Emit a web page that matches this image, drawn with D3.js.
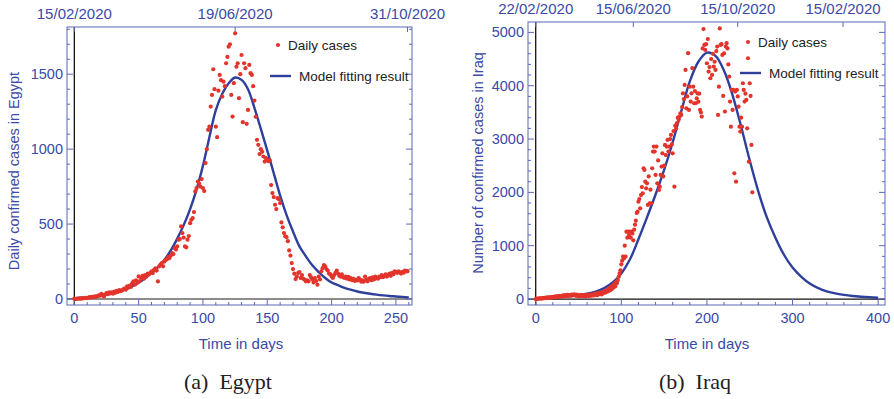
<!DOCTYPE html>
<html>
<head>
<meta charset="utf-8">
<script src="https://cdn.jsdelivr.net/npm/d3@7"></script>
<style>
  body { margin: 0; background: #fff; }
  svg { display: block; }
</style>
</head>
<body>
<svg id="chart" width="894" height="399"></svg>
<script>
// Egypt: daily cases, one value per day starting at day 0
const egyptCases = [
  2, 0, 1, 3, 2, 4, 3, 6, 5, 8,
  6, 9, 12, 10, 14, 12, 18, 15, 20, 24,
  22, 35, 28, 17, 30, 40, 33, 44, 38, 45,
  35, 50, 42, 55, 48, 60, 52, 57, 65, 70,
  62, 84, 75, 90, 80, 105, 118, 95, 125, 110,
  151, 120, 140, 155, 135, 160, 150, 170, 165, 173,
  185, 173, 195, 205, 190, 117, 218, 229, 240, 218,
  250, 262, 265, 280, 273, 290, 307, 300, 340, 330,
  351, 396, 400, 484, 440, 410, 351, 345, 396, 420,
  506, 529, 540, 580, 718, 740, 784, 770, 750, 800,
  740, 720, 907, 1000, 1129, 1150, 1284, 1362, 1533, 1400,
  1150, 1080, 1390, 1495, 1460, 1351, 1450, 1420, 1573, 1615,
  1684, 1700, 1362, 1217, 1440, 1773, 1550, 1573, 1340, 1500,
  1628, 1180, 1573, 1540, 1169, 1262, 1562, 1507, 1495, 1420,
  1324, 1216, 1062, 1029, 967, 1000, 982, 951, 917, 940,
  929, 920, 925, 760, 707, 680, 629, 600, 673, 666,
  640, 511, 478, 440, 418, 413, 386, 324, 290, 240,
  200, 169, 133, 150, 173, 180, 140, 160, 135, 130,
  118, 125, 118, 160, 145, 130, 110, 140, 120, 95,
  150, 130, 185, 206, 227, 218, 200, 190, 170, 165,
  150, 140, 160, 175, 190, 170, 155, 150, 165, 145,
  140, 150, 135, 148, 130, 140, 125, 135, 120, 128,
  124, 140, 130, 115, 125, 115, 150, 130, 118, 135,
  140, 125, 145, 130, 150, 140, 135, 150, 145, 160,
  145, 155, 165, 150, 160, 170, 155, 175, 165, 184,
  180, 175, 185, 178, 170, 182, 176, 190, 184, 186
];

// Egypt model fit, sampled every 5 days
const egyptModelDays = d3.range(0, 261, 5);
const egyptModel = [
  5, 8, 11, 15, 21, 29, 38, 50, 66, 85,
  108, 138, 175, 212, 261, 324, 403, 493, 600, 730,
  890, 1080, 1260, 1370, 1440, 1478, 1462, 1400, 1275, 1135,
  990, 840, 690, 560, 450, 351, 285, 225, 180, 140,
  110, 92, 75, 62, 50, 42, 35, 29, 24, 20,
  17, 14, 11
];

// Iraq: daily confirmed cases, one value per day starting at day 0
const iraqCases = [
  0, 4, 8, 5, 12, 10, 15, 9, 18, 14,
  20, 16, 25, 22, 30, 18, 28, 35, 24, 32,
  40, 30, 45, 38, 50, 35, 55, 42, 60, 48,
  52, 65, 45, 70, 58, 75, 62, 80, 55, 68,
  72, 60, 85, 66, 78, 90, 70, 62, 82, 58,
  75, 50, 68, 80, 55, 72, 64, 48, 70, 60,
  65, 78, 55, 85, 70, 62, 90, 75, 68, 95,
  80, 105, 72, 110, 90, 120, 100, 85, 130, 110,
  140, 120, 160, 135, 180, 150, 200, 165, 230, 190,
  250, 215, 280, 240, 320, 300, 356, 420, 480, 540,
  650, 720, 794, 760, 1000, 794, 1263, 1150, 1263, 1200,
  1263, 1150, 1263, 1230, 1100, 1300, 1394, 1470, 1613, 1638,
  1826, 1876, 1700, 1950, 2100, 1983, 2452, 2420, 2201, 2076,
  2170, 1764, 2300, 1795, 2050, 1795, 2452, 2765, 2859, 2765,
  2327, 2859, 2170, 2600, 2045, 2107, 2327, 2483, 2733, 2300,
  2500, 2890, 2700, 2859, 2984, 2765, 2859, 3000, 3078, 2900,
  2733, 3150, 2107, 3250, 3200, 3300, 3400, 3360, 3421, 3483,
  3452, 3600, 3858, 3750, 4015, 4296, 3577, 3800, 4610, 3546,
  3983, 3702, 3858, 4330, 3983, 3671, 3900, 3671, 3765, 3858,
  3700, 3850, 3546, 3500, 3421, 4700, 5062, 4765, 4671, 4780,
  4421, 4874, 4265, 4350, 4140, 4500, 4202, 4600, 4359, 4450,
  4296, 4650, 4734, 3452, 3983, 5075, 4765, 4780, 4577, 3808,
  4609, 3515, 4734, 4797, 4700, 4400, 4171, 3702, 3233, 3921,
  3546, 3921, 2357, 3890, 2201, 3921, 3800, 3608, 3233, 3140,
  3400, 3233, 4046, 3921, 3702, 3850, 3733, 3202, 4515, 2576,
  4046, 3808, 2889, 2001
];

// Iraq model fit, sampled every 10 days
const iraqModelDays = d3.range(0, 401, 10);
const iraqModel = [
  10, 18, 28, 40, 55, 72, 100, 140, 205, 310,
  480, 740, 1120, 1530, 1960, 2420, 2940, 3520, 4080, 4450,
  4620, 4560, 4280, 3820, 3230, 2600, 2020, 1530, 1150, 830,
  590, 420, 290, 205, 145, 105, 78, 58, 44, 33,
  25
];

// top date axes
const egyptDateDays = [0, 125, 259];
const egyptDateLabels = ["15/02/2020", "19/06/2020", "31/10/2020"];
const iraqDateDays = [0, 114, 236, 359];
const iraqDateLabels = ["22/02/2020", "15/06/2020", "15/10/2020", "15/02/2020"];

const blue = "#3a4aa6";
const frameCol = "#5a68b8";
const red = "#e3342b";
const curveCol = "#2e3f9c";
const sans = "Liberation Sans, Arial, sans-serif";

const svg = d3.select("#chart");

function drawPanel(p) {
  const x = d3.scaleLinear().domain(p.xDomain).range([p.left, p.right]);
  const y = d3.scaleLinear().domain(p.yDomain).range([p.bottom, p.top]);
  const g = svg.append("g");

  // zero lines
  g.append("line")
    .attr("x1", p.left).attr("x2", p.right)
    .attr("y1", y(0)).attr("y2", y(0))
    .attr("stroke", p.zeroCol).attr("stroke-width", 1.3);
  g.append("line")
    .attr("x1", x(0)).attr("x2", x(0))
    .attr("y1", p.top).attr("y2", p.bottom)
    .attr("stroke", "#111").attr("stroke-width", 1.3);

  // frame
  g.append("rect")
    .attr("x", p.left).attr("y", p.top)
    .attr("width", p.right - p.left).attr("height", p.bottom - p.top)
    .attr("fill", "none").attr("stroke", frameCol).attr("stroke-width", 1);

  const xMajor = d3.range(0, p.xDomain[1], p.xStep);
  const xMinor = d3.range(0, p.xDomain[1], p.xStep / 5);
  const yMajor = d3.range(0, p.yDomain[1], p.yStep);
  const yMinor = d3.range(0, p.yDomain[1], p.yStep / 5);

  // bottom ticks (inward)
  g.selectAll(null).data(xMinor).enter().append("line")
    .attr("x1", d => x(d)).attr("x2", d => x(d))
    .attr("y1", p.bottom).attr("y2", d => p.bottom - (xMajor.includes(d) ? 6 : 3))
    .attr("stroke", frameCol);
  g.selectAll(null).data(xMajor).enter().append("text")
    .attr("x", d => x(d)).attr("y", p.bottom + 18)
    .attr("text-anchor", "middle")
    .attr("font-family", sans)
    .attr("font-size", 14.5).attr("fill", blue)
    .text(d => d);

  // left + right ticks
  [p.left, p.right].forEach((fx, i) => {
    const dir = i === 0 ? 1 : -1;
    g.selectAll(null).data(yMinor).enter().append("line")
      .attr("y1", d => y(d)).attr("y2", d => y(d))
      .attr("x1", fx).attr("x2", d => fx + dir * (yMajor.includes(d) ? 6 : 3))
      .attr("stroke", frameCol);
  });
  g.selectAll(null).data(yMajor).enter().append("text")
    .attr("x", p.left - 4).attr("y", d => y(d) + 5)
    .attr("text-anchor", "end")
    .attr("font-family", sans)
    .attr("font-size", 14.5).attr("fill", blue)
    .text(d => d);

  // top date ticks
  g.selectAll(null).data(p.dateDays).enter().append("line")
    .attr("x1", d => x(d)).attr("x2", d => x(d))
    .attr("y1", p.top).attr("y2", p.top + 5)
    .attr("stroke", frameCol);
  g.selectAll(null).data(p.dateDays).enter().append("text")
    .attr("x", d => x(d)).attr("y", p.top - 8)
    .attr("text-anchor", "middle")
    .attr("font-family", sans)
    .attr("font-size", 15).attr("fill", blue)
    .text((d, i) => p.dateLabels[i]);

  // axis titles
  g.append("text")
    .attr("x", p.xTitleX).attr("y", 349)
    .attr("text-anchor", "middle")
    .attr("font-family", sans)
    .attr("font-size", 15).attr("fill", blue)
    .text("Time in days");
  g.append("text")
    .attr("transform", `translate(${p.yTitleX},${p.yTitleY}) rotate(-90)`)
    .attr("text-anchor", "middle")
    .attr("font-family", sans)
    .attr("font-size", 14.5).attr("fill", blue)
    .text(p.yTitle);

  // model curve
  const line = d3.line()
    .x((d, i) => x(p.modelDays[i]))
    .y(d => y(d))
    .curve(d3.curveCatmullRom.alpha(0.5));
  g.append("path")
    .datum(p.model)
    .attr("d", line)
    .attr("fill", "none")
    .attr("stroke", curveCol)
    .attr("stroke-width", 2.4);

  // daily cases
  g.selectAll(null).data(p.cases).enter().append("circle")
    .attr("cx", (d, i) => x(i))
    .attr("cy", d => y(d))
    .attr("r", 2.1)
    .attr("fill", red);

  // legend
  const lg = g.append("g").attr("transform", `translate(${p.legX},${p.legY})`);
  lg.append("circle").attr("cx", 8).attr("cy", 0).attr("r", 2.1).attr("fill", red);
  lg.append("text").attr("x", 18).attr("y", 5)
    .attr("font-family", sans)
    .attr("font-size", 13.5).attr("fill", "#222")
    .text("Daily cases");
  lg.append("line").attr("x1", 0).attr("x2", 21).attr("y1", 31).attr("y2", 31)
    .attr("stroke", curveCol).attr("stroke-width", 2.4);
  lg.append("text").attr("x", 29).attr("y", 36)
    .attr("font-family", sans)
    .attr("font-size", 13.5).attr("fill", "#222")
    .text("Model fitting result");

  // caption
  svg.append("text")
    .attr("x", p.capX).attr("y", 389)
    .attr("text-anchor", "middle")
    .attr("font-family", "Liberation Serif, DejaVu Serif, serif")
    .attr("font-size", 22).attr("fill", "#222")
    .attr("xml:space", "preserve")
    .style("white-space", "pre")
    .text(p.caption);
}

drawPanel({
  left: 67, right: 412, top: 27, bottom: 305,
  xDomain: [-5.7, 262.5], yDomain: [-40, 1815],
  xStep: 50, yStep: 500,
  zeroCol: "#666",
  cases: egyptCases, model: egyptModel, modelDays: egyptModelDays,
  dateDays: egyptDateDays, dateLabels: egyptDateLabels,
  xTitleX: 241, yTitleX: 19, yTitleY: 171,
  yTitle: "Daily confirmed cases in Egypt",
  legX: 270, legY: 45,
  capX: 228, caption: "(a)  Egypt"
});

drawPanel({
  left: 528, right: 885, top: 22, bottom: 305,
  xDomain: [-9, 408], yDomain: [-112, 5195],
  xStep: 100, yStep: 1000,
  zeroCol: "#111",
  cases: iraqCases, model: iraqModel, modelDays: iraqModelDays,
  dateDays: iraqDateDays, dateLabels: iraqDateLabels,
  xTitleX: 707, yTitleX: 483, yTitleY: 163,
  yTitle: "Number of confirmed cases in Iraq",
  legX: 740, legY: 42,
  capX: 695, caption: "(b)  Iraq"
});
</script>
</body>
</html>
